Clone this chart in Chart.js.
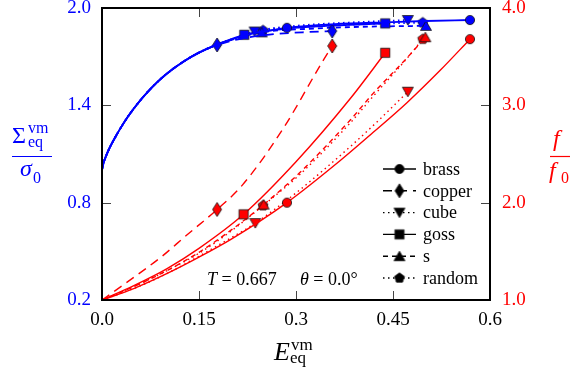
<!DOCTYPE html>
<html>
<head>
<meta charset="utf-8">
<script src="https://cdn.jsdelivr.net/npm/chart.js@4.4.0/dist/chart.umd.min.js"></script>
<style>
  html, body { margin: 0; padding: 0; background: #fff; }
  #wrap { width: 570px; height: 376px; }
</style>
</head>
<body>
<div id="wrap"><canvas id="chart" width="570" height="376"></canvas></div>
<script>
// values
// x = E_eq^vm ; sig = Sigma_eq^vm / sigma_0 (left axis) ; f = f / f_0 (right axis)
const brassSigX = [0, 0.002, 0.005, 0.012, 0.02, 0.031, 0.04, 0.055, 0.07, 0.09, 0.11, 0.13, 0.15, 0.175, 0.2, 0.22, 0.25, 0.286, 0.36, 0.44, 0.5, 0.569];
const brassSigY = [1.0, 1.04, 1.075, 1.14, 1.20, 1.275, 1.33, 1.41, 1.48, 1.56, 1.625, 1.68, 1.725, 1.77, 1.805, 1.83, 1.855, 1.878, 1.90, 1.912, 1.92, 1.926];
const copperSigX = [0, 0.002, 0.005, 0.012, 0.02, 0.031, 0.04, 0.055, 0.07, 0.09, 0.11, 0.13, 0.15, 0.178, 0.22, 0.27, 0.32, 0.356];
const copperSigY = [1.0, 1.04, 1.075, 1.14, 1.20, 1.275, 1.33, 1.41, 1.48, 1.56, 1.625, 1.68, 1.725, 1.772, 1.815, 1.84, 1.852, 1.858];
const cubeSigX = [0, 0.002, 0.005, 0.012, 0.02, 0.031, 0.04, 0.055, 0.07, 0.09, 0.11, 0.13, 0.15, 0.175, 0.2, 0.236, 0.3, 0.38, 0.473];
const cubeSigY = [1.0, 1.04, 1.075, 1.14, 1.20, 1.275, 1.33, 1.41, 1.48, 1.56, 1.625, 1.68, 1.725, 1.77, 1.805, 1.855, 1.89, 1.91, 1.926];
const gossSigX = [0, 0.002, 0.005, 0.012, 0.02, 0.031, 0.04, 0.055, 0.07, 0.09, 0.11, 0.13, 0.15, 0.175, 0.22, 0.28, 0.36, 0.438];
const gossSigY = [1.0, 1.04, 1.075, 1.14, 1.20, 1.275, 1.33, 1.41, 1.48, 1.56, 1.625, 1.68, 1.725, 1.77, 1.835, 1.87, 1.892, 1.905];
const sSigX = [0, 0.002, 0.005, 0.012, 0.02, 0.031, 0.04, 0.055, 0.07, 0.09, 0.11, 0.13, 0.15, 0.175, 0.21, 0.247, 0.32, 0.4, 0.501];
const sSigY = [1.0, 1.04, 1.075, 1.14, 1.20, 1.275, 1.33, 1.41, 1.48, 1.56, 1.625, 1.68, 1.725, 1.77, 1.815, 1.85, 1.872, 1.884, 1.89];
const randomSigX = [0, 0.002, 0.005, 0.012, 0.02, 0.031, 0.04, 0.055, 0.07, 0.09, 0.11, 0.13, 0.15, 0.175, 0.21, 0.249, 0.32, 0.4, 0.496];
const randomSigY = [1.0, 1.04, 1.075, 1.14, 1.20, 1.275, 1.33, 1.41, 1.48, 1.56, 1.625, 1.68, 1.725, 1.77, 1.82, 1.862, 1.885, 1.90, 1.91];

const brassFX = [0, 0.05, 0.1, 0.15, 0.2, 0.286, 0.368, 0.419, 0.472, 0.523, 0.569];
const brassFY = [1.0, 1.12, 1.27, 1.44, 1.625, 2.0, 2.43, 2.72, 3.03, 3.36, 3.68];
const copperFX = [0, 0.036, 0.093, 0.128, 0.178, 0.217, 0.28, 0.341, 0.356];
const copperFY = [1.0, 1.17, 1.45, 1.65, 1.93, 2.18, 2.76, 3.45, 3.61];
const cubeFX = [0, 0.05, 0.1, 0.15, 0.2, 0.237, 0.3, 0.388, 0.43, 0.473];
const cubeFY = [1.0, 1.12, 1.27, 1.45, 1.64, 1.79, 2.10, 2.60, 2.86, 3.14];
const gossFX = [0, 0.05, 0.1, 0.15, 0.219, 0.3, 0.384, 0.438];
const gossFY = [1.0, 1.15, 1.32, 1.53, 1.88, 2.42, 3.07, 3.54];
const sFX = [0, 0.05, 0.1, 0.15, 0.2, 0.25, 0.306, 0.384, 0.419, 0.472, 0.5];
const sFY = [1.0, 1.14, 1.30, 1.49, 1.72, 1.98, 2.31, 2.85, 3.12, 3.49, 3.70];
const randomFX = [0, 0.05, 0.1, 0.15, 0.2, 0.249, 0.306, 0.384, 0.419, 0.47, 0.496];
const randomFY = [1.0, 1.14, 1.30, 1.48, 1.71, 1.97, 2.29, 2.82, 3.09, 3.47, 3.68];

const xTicks = [0, 0.15, 0.3, 0.45, 0.6];
const xTickLabels = ['0.0', '0.15', '0.3', '0.45', '0.6'];
const sigTicks = [0.2, 0.8, 1.4, 2.0];
const sigTickLabels = ['0.2', '0.8', '1.4', '2.0'];
const fTicks = [1, 2, 3, 4];
const fTickLabels = ['1.0', '2.0', '3.0', '4.0'];

const BLUE = '#0000ff';
const RED = '#ff0000';
const SERIF = '"Liberation Serif"';

// marker glyphs drawn on small canvases
function markerCanvas(shape, fill) {
  const c = document.createElement('canvas');
  c.width = 18; c.height = 18;
  const g = c.getContext('2d');
  g.translate(9, 9);
  g.beginPath();
  if (shape === 'circle') {
    g.arc(0, 0, 4.6, 0, Math.PI * 2);
  } else if (shape === 'diamond') {
    g.moveTo(0, -7); g.lineTo(4.5, 0); g.lineTo(0, 7); g.lineTo(-4.5, 0);
  } else if (shape === 'tridown') {
    g.moveTo(-5.5, -4.5); g.lineTo(5.5, -4.5); g.lineTo(0, 5);
  } else if (shape === 'square') {
    g.rect(-4.6, -4.6, 9.2, 9.2);
  } else if (shape === 'triup') {
    g.moveTo(-5.5, 4.5); g.lineTo(5.5, 4.5); g.lineTo(0, -5);
  } else if (shape === 'pentagon') {
    for (let i = 0; i < 5; i++) {
      const a = -Math.PI / 2 + i * 2 * Math.PI / 5;
      g.lineTo(5.2 * Math.cos(a), 5.2 * Math.sin(a));
    }
  }
  g.closePath();
  g.fillStyle = fill;
  g.fill();
  g.lineWidth = 0.8;
  g.strokeStyle = '#111';
  g.stroke();
  return c;
}

const series = [
  { name: 'brass',  sx: brassSigX,  sy: brassSigY,  sMid: 17, fx: brassFX,  fy: brassFY,  fMid: 5, dash: [],         shape: 'circle' },
  { name: 'copper', sx: copperSigX, sy: copperSigY, sMid: 13, fx: copperFX, fy: copperFY, fMid: 4, dash: [9, 6],     shape: 'diamond' },
  { name: 'cube',   sx: cubeSigX,   sy: cubeSigY,   sMid: 15, fx: cubeFX,   fy: cubeFY,   fMid: 5, dash: [1.5, 3.5], shape: 'tridown' },
  { name: 'goss',   sx: gossSigX,   sy: gossSigY,   sMid: 14, fx: gossFX,   fy: gossFY,   fMid: 4, dash: [],         shape: 'square' },
  { name: 's',      sx: sSigX,      sy: sSigY,      sMid: 15, fx: sFX,      fy: sFY,      fMid: 5, dash: [5, 4],     shape: 'triup' },
  { name: 'random', sx: randomSigX, sy: randomSigY, sMid: 15, fx: randomFX, fy: randomFY, fMid: 5, dash: [1.5, 3.5], shape: 'pentagon' }
];

function makeDataset(s, xs, ys, mid, axis, color, width) {
  const glyph = markerCanvas(s.shape, color);
  const last = xs.length - 1;
  return {
    label: s.name,
    data: xs.map((x, i) => ({ x: x, y: ys[i] })),
    yAxisID: axis,
    borderColor: color,
    backgroundColor: color,
    borderWidth: width,
    borderDash: s.dash,
    cubicInterpolationMode: 'monotone',
    pointStyle: glyph,
    pointRadius: ctx => (ctx.dataIndex === mid || ctx.dataIndex === last) ? 5 : 0,
    pointHoverRadius: 0
  };
}

const datasets = [];
series.forEach(s => datasets.push(makeDataset(s, s.fx, s.fy, s.fMid, 'y2', RED, 1.4)));
series.forEach(s => datasets.push(makeDataset(s, s.sx, s.sy, s.sMid, 'y', BLUE, 1.8)));

function fixedTicks(values) {
  return scale => { scale.ticks = values.map(v => ({ value: v })); };
}

function drawParts(ctx, parts, x, y) {
  parts.forEach(p => {
    ctx.font = p.font;
    ctx.fillText(p.t, x, y);
    x += ctx.measureText(p.t).width;
  });
}

const decorations = {
  id: 'decorations',
  afterDatasetsDraw(chart) {
    const ctx = chart.ctx;
    const a = chart.chartArea;
    const xs = chart.scales.x, ys = chart.scales.y, fs = chart.scales.y2;
    ctx.save();
    // inward tick marks
    ctx.strokeStyle = '#444';
    ctx.lineWidth = 1;
    ctx.beginPath();
    xTicks.slice(1, -1).forEach(v => {
      const px = Math.round(xs.getPixelForValue(v)) + 0.5;
      ctx.moveTo(px, a.bottom); ctx.lineTo(px, a.bottom - 9);
      ctx.moveTo(px, a.top); ctx.lineTo(px, a.top + 9);
    });
    sigTicks.slice(1, -1).forEach(v => {
      const py = Math.round(ys.getPixelForValue(v)) + 0.5;
      ctx.moveTo(a.left, py); ctx.lineTo(a.left + 9, py);
    });
    fTicks.slice(1, -1).forEach(v => {
      const py = Math.round(fs.getPixelForValue(v)) + 0.5;
      ctx.moveTo(a.right, py); ctx.lineTo(a.right - 9, py);
    });
    ctx.stroke();
    // frame
    ctx.strokeStyle = '#000';
    ctx.lineWidth = 2;
    ctx.strokeRect(a.left, a.top, a.right - a.left, a.bottom - a.top);

    // legend
    ctx.textBaseline = 'middle';
    series.forEach((s, i) => {
      const yy = 169 + i * 21.8;
      ctx.strokeStyle = '#000';
      ctx.lineWidth = 1.4;
      ctx.setLineDash(s.dash);
      ctx.beginPath();
      ctx.moveTo(383, yy); ctx.lineTo(416, yy);
      ctx.stroke();
      ctx.setLineDash([]);
      ctx.drawImage(markerCanvas(s.shape, '#000'), 399.5 - 9, yy - 9);
      ctx.fillStyle = '#000';
      ctx.font = '18px ' + SERIF;
      ctx.fillText(s.name, 423, yy + 1);
    });

    // annotation
    ctx.textBaseline = 'alphabetic';
    ctx.fillStyle = '#000';
    drawParts(ctx, [
      { t: 'T', font: 'italic 18px ' + SERIF },
      { t: ' = 0.667', font: '18px ' + SERIF }
    ], 207, 285);
    drawParts(ctx, [
      { t: '\u03b8', font: 'italic 18px ' + SERIF },
      { t: ' = 0.0\u00b0', font: '18px ' + SERIF }
    ], 300, 285);

    // x axis title
    ctx.font = 'italic 26px ' + SERIF;
    ctx.fillText('E', 274, 360);
    ctx.font = '17px ' + SERIF;
    ctx.fillText('vm', 291, 350);
    ctx.fillText('eq', 290, 363);

    // left axis title (blue)
    ctx.fillStyle = BLUE;
    ctx.strokeStyle = BLUE;
    ctx.font = '24px ' + SERIF;
    ctx.fillText('\u03a3', 12, 143);
    ctx.font = '16px ' + SERIF;
    ctx.fillText('vm', 28, 133);
    ctx.fillText('eq', 28, 147);
    ctx.lineWidth = 1.2;
    ctx.beginPath();
    ctx.moveTo(12, 156.5); ctx.lineTo(52, 156.5);
    ctx.stroke();
    ctx.font = 'italic 24px ' + SERIF;
    ctx.fillText('\u03c3', 20, 176);
    ctx.font = '16px ' + SERIF;
    ctx.fillText('0', 33, 183);

    // right axis title (red)
    ctx.fillStyle = RED;
    ctx.strokeStyle = RED;
    ctx.font = 'italic 24px ' + SERIF;
    ctx.fillText('f', 553, 146);
    ctx.beginPath();
    ctx.moveTo(550, 156.5); ctx.lineTo(570, 156.5);
    ctx.stroke();
    ctx.fillText('f', 549, 178);
    ctx.font = '16px ' + SERIF;
    ctx.fillText('0', 561, 183);
    ctx.restore();
  }
};

new Chart(document.getElementById('chart'), {
  type: 'line',
  data: { datasets: datasets },
  options: {
    responsive: false,
    animation: false,
    events: [],
    layout: { padding: { top: 8, left: 0, right: 0, bottom: 0 } },
    plugins: { legend: { display: false }, tooltip: { enabled: false } },
    scales: {
      x: {
        type: 'linear', min: 0, max: 0.6, position: 'bottom',
        grid: { display: false, drawTicks: false }, border: { display: false },
        afterBuildTicks: fixedTicks(xTicks),
        afterFit: s => { s.height = 76; s.paddingLeft = 0; s.paddingRight = 0; },
        ticks: { color: '#000', padding: 9, maxRotation: 0, font: { family: SERIF, size: 19 },
          callback: (v, i) => xTickLabels[i] }
      },
      y: {
        type: 'linear', min: 0.2, max: 2.0, position: 'left',
        grid: { display: false, drawTicks: false }, border: { display: false },
        afterBuildTicks: fixedTicks(sigTicks),
        afterFit: s => { s.width = 102; s.paddingTop = 0; s.paddingBottom = 0; },
        ticks: { color: BLUE, padding: 11, font: { family: SERIF, size: 19 },
          callback: (v, i) => sigTickLabels[i] }
      },
      y2: {
        type: 'linear', min: 1.0, max: 4.0, position: 'right',
        grid: { display: false, drawTicks: false }, border: { display: false },
        afterBuildTicks: fixedTicks(fTicks),
        afterFit: s => { s.width = 80; s.paddingTop = 0; s.paddingBottom = 0; },
        ticks: { color: RED, padding: 12, font: { family: SERIF, size: 19 },
          callback: (v, i) => fTickLabels[i] }
      }
    }
  },
  plugins: [decorations]
});
</script>
</body>
</html>
